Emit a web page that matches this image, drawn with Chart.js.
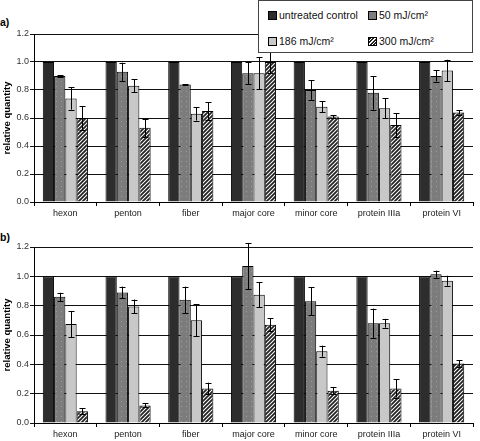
<!DOCTYPE html>
<html>
<head>
<meta charset="utf-8">
<script src="https://cdn.jsdelivr.net/npm/chart.js@4.4.1/dist/chart.umd.min.js"></script>
<style>
  html, body { margin:0; padding:0; background:#fff; }
  body { width:480px; height:441px; position:relative; overflow:hidden; font-family:"Liberation Sans", Arial, sans-serif; }
  .cv { position:absolute; left:0; }
  .panel { position:absolute; left:0; font-weight:bold; font-size:10.5px; color:#000; }
  #legend { position:absolute; left:258px; top:0px; width:213px; height:51px; border:1px solid #444; background:#fff; z-index:5; font-size:10.5px; color:#111; }
  .li { position:absolute; white-space:nowrap; line-height:12px; }
  .sw { display:inline-block; width:7px; height:7px; border:1px solid #000; vertical-align:-1px; margin-right:2px; }
</style>
</head>
<body>
<div class="panel" style="top:16px;">a)</div>
<div class="panel" style="top:231px;">b)</div>
<canvas id="ca" class="cv" style="top:0px;" width="480" height="220"></canvas>
<canvas id="cb" class="cv" style="top:220px;" width="480" height="221"></canvas>
<div id="legend">
  <div class="li" style="left:9px;top:8px;"><span class="sw" style="background:#2d2d2d"></span>untreated control</div>
  <div class="li" style="left:109px;top:8px;"><span class="sw" style="background:#7c7c7c"></span>50 mJ/cm²</div>
  <div class="li" style="left:9px;top:34px;"><span class="sw" style="background:#c8c8c8"></span>186 mJ/cm²</div>
  <div class="li" style="left:109px;top:34px;"><span class="sw" style="background:repeating-linear-gradient(135deg,#222 0 1.5px,#fff 1.5px 2.5px)"></span>300 mJ/cm²</div>
</div>
<script>
// ---- data ----
const categories = ["hexon", "penton", "fiber", "major core", "minor core", "protein IIIa", "protein VI"];
const seriesNames = ["untreated control", "50 mJ/cm²", "186 mJ/cm²", "300 mJ/cm²"];
const yTicks = [0.0, 0.2, 0.4, 0.6, 0.8, 1.0, 1.2];

// panel a
const aControl = [1, 1, 1, 1, 1, 1, 1];
const a50   = [0.90, 0.93, 0.84, 0.92, 0.80, 0.78, 0.90];
const a50e  = [0.005, 0.065, 0.003, 0.077, 0.07, 0.12, 0.04];
const a186  = [0.74, 0.83, 0.63, 0.92, 0.68, 0.67, 0.94];
const a186e = [0.08, 0.047, 0.048, 0.115, 0.04, 0.072, 0.076];
const a300  = [0.60, 0.53, 0.65, 1.00, 0.61, 0.55, 0.64];
const a300e = [0.086, 0.066, 0.064, 0.08, 0.01, 0.085, 0.017];

// panel b
const bControl = [1, 1, 1, 1, 1, 1, 1];
const b50   = [0.86, 0.89, 0.84, 1.07, 0.83, 0.68, 1.015];
const b50e  = [0.028, 0.04, 0.09, 0.158, 0.095, 0.10, 0.024];
const b186  = [0.675, 0.795, 0.70, 0.875, 0.49, 0.68, 0.97];
const b186e = [0.089, 0.047, 0.11, 0.086, 0.038, 0.03, 0.034];
const b300  = [0.08, 0.12, 0.235, 0.67, 0.22, 0.235, 0.405];
const b300e = [0.022, 0.014, 0.04, 0.043, 0.025, 0.062, 0.022];

// ---- patterns ----
function dotPattern() {
  const c = document.createElement('canvas'); c.width = 5; c.height = 5;
  const x = c.getContext('2d');
  x.fillStyle = '#7c7c7c'; x.fillRect(0,0,5,5);
  x.fillStyle = '#9c9c9c'; x.fillRect(1,1,1,1);
  return x.createPattern(c, 'repeat');
}
function hatchPattern() {
  const s = 4;
  const c = document.createElement('canvas'); c.width = s; c.height = s;
  const x = c.getContext('2d');
  x.fillStyle = '#ffffff'; x.fillRect(0,0,s,s);
  x.strokeStyle = '#222'; x.lineWidth = 1.8;
  x.beginPath();
  x.moveTo(0, s); x.lineTo(s, 0);
  x.moveTo(-1, 1); x.lineTo(1, -1);
  x.moveTo(s-1, s+1); x.lineTo(s+1, s-1);
  x.stroke();
  return x.createPattern(c, 'repeat');
}

const errPlugin = {
  id: 'errbars',
  afterDatasetsDraw(chart) {
    const ctx = chart.ctx, ys = chart.scales.y;
    ctx.save();
    ctx.strokeStyle = '#000'; ctx.lineWidth = 1;
    chart.data.datasets.forEach((ds, di) => {
      if (!ds.err) return;
      const meta = chart.getDatasetMeta(di);
      meta.data.forEach((bar, i) => {
        const v = ds.data[i], e = ds.err[i];
        const x = Math.round(bar.x) + 0.5;
        const y1 = ys.getPixelForValue(v + e), y2 = ys.getPixelForValue(v - e);
        ctx.beginPath();
        ctx.moveTo(x, y1); ctx.lineTo(x, y2);
        ctx.moveTo(x - 3, Math.round(y1) + 0.5); ctx.lineTo(x + 3, Math.round(y1) + 0.5);
        ctx.moveTo(x - 3, Math.round(y2) + 0.5); ctx.lineTo(x + 3, Math.round(y2) + 0.5);
        ctx.stroke();
      });
    });
    ctx.restore();
  }
};

function makeChart(id, ctrl, s50, e50, s186, e186, s300, e300, padTop, xHeight) {
  const common = { borderColor: '#000', borderWidth: 1, categoryPercentage: 0.72, barPercentage: 1.0 };
  return new Chart(document.getElementById(id), {
    type: 'bar',
    data: {
      labels: categories,
      datasets: [
        Object.assign({ label: seriesNames[0], data: ctrl, backgroundColor: '#2d2d2d' }, common),
        Object.assign({ label: seriesNames[1], data: s50, err: e50, backgroundColor: dotPattern() }, common),
        Object.assign({ label: seriesNames[2], data: s186, err: e186, backgroundColor: '#c8c8c8' }, common),
        Object.assign({ label: seriesNames[3], data: s300, err: e300, backgroundColor: hatchPattern() }, common)
      ]
    },
    options: {
      responsive: false, animation: false,
      layout: { padding: { top: padTop, right: 7, left: 0, bottom: 0 } },
      plugins: { legend: { display: false }, tooltip: { enabled: false } },
      scales: {
        x: {
          grid: { display: true, drawOnChartArea: false, drawTicks: true, tickLength: 4, color: '#000', offset: true },
          border: { display: true, color: '#000', width: 1 },
          ticks: { color: '#222', font: { family: 'Liberation Sans', size: 9 }, autoSkip: false, maxRotation: 0, padding: 2 },
          afterFit(s) { s.height = xHeight; }
        },
        y: {
          min: 0, max: 1.2,
          afterBuildTicks(s) { s.ticks = yTicks.map(v => ({ value: v })); },
          grid: { color: '#111', lineWidth: 1, drawTicks: true, tickLength: 4 },
          border: { display: true, color: '#000', width: 1 },
          ticks: { color: '#333', font: { family: 'Liberation Sans', size: 9 }, padding: 1, callback: v => Number(v).toFixed(1) },
          title: { display: true, text: 'relative quantity', color: '#000', font: { family: 'Liberation Sans', size: 9.5, weight: 'bold' }, padding: { top: 2, bottom: 0 } },
          afterFit(s) { s.width = 34; }
        }
      }
    },
    plugins: [errPlugin]
  });
}

makeChart('ca', aControl, a50, a50e, a186, a186e, a300, a300e, 34, 18);
makeChart('cb', bControl, b50, b50e, b186, b186e, b300, b300e, 27, 18);
</script>
</body>
</html>
